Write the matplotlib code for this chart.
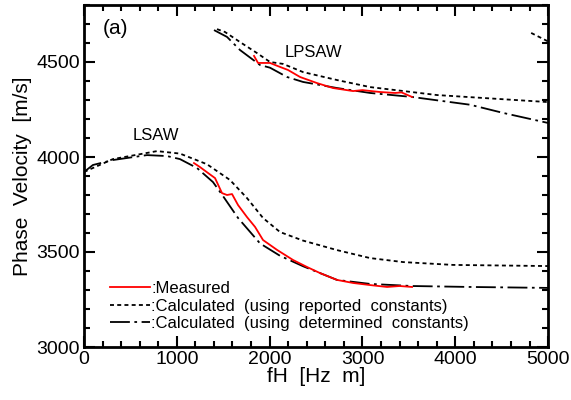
"""Phase velocity vs fH: LSAW and LPSAW, measured and calculated"""
import matplotlib
matplotlib.use("Agg")
import matplotlib.pyplot as plt
from matplotlib.ticker import MultipleLocator

plt.rcParams['font.family'] = ['Liberation Sans', 'DejaVu Sans']

# LSAW, calculated with reported constants
lsaw_rep_fh = [0, 312, 787, 1034, 1325, 1573, 1756, 1929, 2112, 2360, 2726, 3082, 3437, 3976, 5000]
lsaw_rep_v = [3921, 3989, 4031, 4018, 3962, 3879, 3784, 3679, 3605, 3560, 3510, 3468, 3447, 3432, 3426]

# LSAW, calculated with determined constants
lsaw_det_fh = [0, 97, 312, 679, 894, 1034, 1218, 1390, 1487, 1660, 1897, 2112, 2360, 2726, 3082, 3534, 4160, 5000]
lsaw_det_v = [3921, 3958, 3984, 4010, 4005, 3989, 3942, 3868, 3802, 3679, 3545, 3480, 3425, 3353, 3332, 3321, 3316, 3311]

# LSAW, measured
lsaw_meas_fh = [1185, 1250, 1336, 1412, 1487, 1541, 1595, 1660, 1756, 1843, 1929, 2080, 2252, 2403,
                2543, 2726, 2899, 3082, 3265, 3400, 3534]
lsaw_meas_v = [3968, 3947, 3916, 3889, 3810, 3800, 3805, 3747, 3684, 3632, 3563, 3511, 3458, 3421,
               3389, 3353, 3337, 3326, 3316, 3321, 3316]

# LPSAW, calculated with reported constants
lpsaw_rep_fh = [1433, 1519, 1681, 1864, 2004, 2144, 2360, 2726, 3082, 3804, 5000]
lpsaw_rep_v = [4673, 4658, 4605, 4547, 4500, 4490, 4447, 4405, 4368, 4326, 4289]
lpsaw_rep2_fh = [4817, 5000]
lpsaw_rep2_v = [4653, 4608]

# LPSAW, calculated with determined constants
lpsaw_det_fh = [1401, 1541, 1681, 1897, 2004, 2188, 2360, 2726, 3082, 3534, 4160, 4515, 5000]
lpsaw_det_v = [4668, 4632, 4563, 4484, 4470, 4421, 4395, 4363, 4337, 4316, 4275, 4232, 4179]

# LPSAW, measured
lpsaw_meas_fh = [1832, 1875, 2004, 2112, 2198, 2328, 2511, 2683, 2899, 3000, 3190, 3351, 3420, 3534]
lpsaw_meas_v = [4532, 4495, 4495, 4474, 4458, 4421, 4389, 4363, 4347, 4352, 4342, 4337, 4340, 4316]

fig = plt.figure(figsize=(5.71, 4.0), dpi=100)
ax = fig.add_axes([0.147, 0.1325, 0.813, 0.855])

dot = dict(color='black', lw=1.3, dashes=(2.2, 1.8))
dashdot = dict(color='black', lw=1.3, dashes=(11, 2.5, 1.5, 2.5))

ax.plot(lsaw_meas_fh, lsaw_meas_v, color='red', lw=1.3, label=':Measured', zorder=3)
ax.plot(lsaw_rep_fh, lsaw_rep_v, label=':Calculated  (using  reported  constants)', **dot)
ax.plot(lsaw_det_fh, lsaw_det_v, label=':Calculated  (using  determined  constants)', **dashdot)

ax.plot(lpsaw_meas_fh, lpsaw_meas_v, color='red', lw=1.3, zorder=3)
ax.plot(lpsaw_rep_fh, lpsaw_rep_v, **dot)
ax.plot(lpsaw_rep2_fh, lpsaw_rep2_v, **dot)
ax.plot(lpsaw_det_fh, lpsaw_det_v, **dashdot)

ax.set_xlim(0, 5000)
ax.set_ylim(3000, 4800)
ax.xaxis.set_major_locator(MultipleLocator(1000))
ax.xaxis.set_minor_locator(MultipleLocator(200))
ax.yaxis.set_major_locator(MultipleLocator(500))
ax.yaxis.set_minor_locator(MultipleLocator(100))
ax.tick_params(which='both', direction='in', top=True, right=True, width=1.5, labelsize=14)
ax.tick_params(which='major', length=8, pad=3)
ax.tick_params(which='minor', length=4)
for s in ax.spines.values():
    s.set_linewidth(2)

ax.set_xlabel('fH  [Hz  m]', fontsize=15, labelpad=-1)
ax.set_ylabel('Phase  Velocity  [m/s]', fontsize=15, labelpad=3)

ax.text(0.04, 0.958, '(a)', transform=ax.transAxes, fontsize=15, va='top')
ax.text(528, 4089, 'LSAW', fontsize=12)
ax.text(2166, 4526, 'LPSAW', fontsize=12)

ax.legend(loc='lower left', bbox_to_anchor=(0.03, 0.012), frameon=False, fontsize=12,
          handlelength=2.4, handletextpad=0.1, labelspacing=0.15, borderaxespad=0.3)

fig.savefig('out.png', dpi=100)
